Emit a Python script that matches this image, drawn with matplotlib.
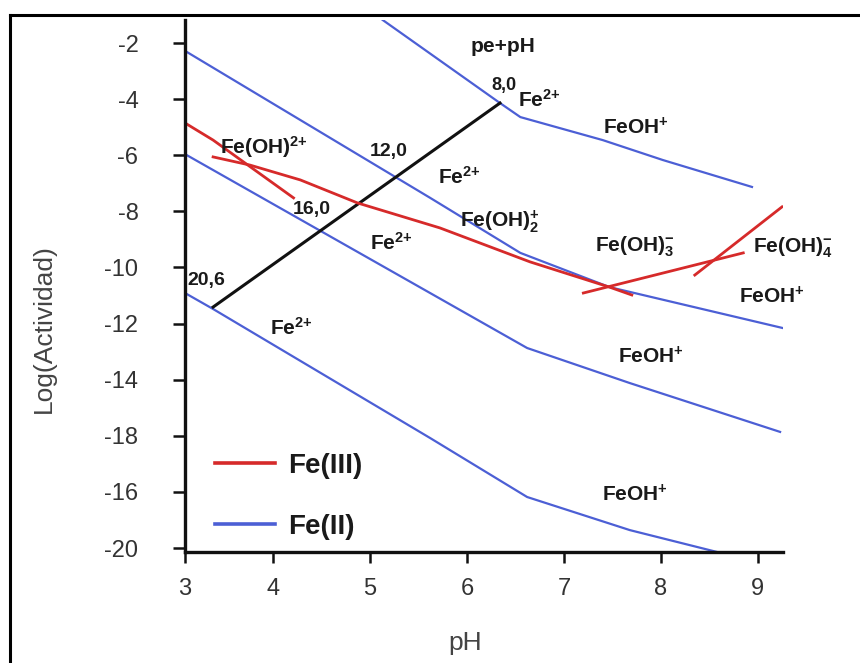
import matplotlib
matplotlib.use("Agg")
import matplotlib.pyplot as plt
from matplotlib.lines import Line2D

plt.rcParams['font.family'] = ['Liberation Sans', 'DejaVu Sans']
plt.rcParams['mathtext.fontset'] = 'custom'
plt.rcParams['mathtext.rm'] = 'Liberation Sans'
plt.rcParams['mathtext.bf'] = 'Liberation Sans:bold'
plt.rcParams['mathtext.it'] = 'Liberation Sans:italic'

# ---------------- data ----------------
# Fe(II) lines (pH, log activity)
fe2_a_x = [5.13, 6.34, 6.55, 7.40, 8.02, 8.94]
fe2_a_y = [-1.18, -4.14, -4.64, -5.46, -6.17, -7.13]
fe2_b_x = [3.09, 5.62, 6.55, 7.47, 9.26]
fe2_b_y = [-2.28, -7.52, -9.48, -10.70, -12.16]
fe2_c_x = [3.09, 6.62, 7.68, 9.23]
fe2_c_y = [-5.96, -12.87, -14.12, -15.86]
fe2_d_x = [3.09, 3.38, 5.62, 6.62, 7.68, 8.58]
fe2_d_y = [-10.91, -11.48, -16.08, -18.18, -19.36, -20.14]

# pe+pH line
pe_x = [3.38, 6.34]
pe_y = [-11.41, -4.14]

# Fe(III) lines
fe3_a_x = [3.09, 3.38, 4.21]
fe3_a_y = [-4.85, -5.46, -7.52]
fe3_b_x = [3.38, 3.76, 4.28, 4.87, 5.72, 6.65, 7.47, 7.70]
fe3_b_y = [-6.06, -6.35, -6.88, -7.70, -8.59, -9.80, -10.70, -10.98]
fe3_c_x = [7.20, 8.85]
fe3_c_y = [-10.91, -9.48]
fe3_d_x = [8.35, 9.25]
fe3_d_y = [-10.27, -7.84]

x_ticks = [3.09, 4, 5, 6, 7, 8, 9]
x_tick_labels = ['3', '4', '5', '6', '7', '8', '9']
y_ticks = [-2, -4, -6, -8, -10, -12, -14, -16, -18, -20]
y_tick_labels = ['-2', '-4', '-6', '-8', '-10', '-12', '-14', '-18', '-16', '-20']

# labels: (text, x, y, ha, size)
species_labels = [
    ("pe+pH", 6.37, -2.14, 'center', 15),
    ("8,0", 6.38, -3.50, 'center', 13),
    (r"$\mathbf{Fe^{2{+}}}$", 6.53, -4.03, 'left', 15),
    (r"$\mathbf{FeOH^{{+}}}$", 7.40, -5.03, 'left', 15),
    ("12,0", 5.19, -5.88, 'center', 14),
    (r"$\mathbf{Fe(OH)^{2{+}}}$", 3.45, -5.71, 'left', 15),
    ("16,0", 4.40, -7.95, 'center', 14),
    (r"$\mathbf{Fe^{2{+}}}$", 5.70, -6.78, 'left', 15),
    (r"$\mathbf{Fe(OH)_{2}^{{+}}}$", 5.93, -8.38, 'left', 15),
    (r"$\mathbf{Fe^{2{+}}}$", 5.00, -9.13, 'left', 15),
    (r"$\mathbf{Fe(OH)_{3}^{{-}}}$", 7.32, -9.27, 'left', 15),
    (r"$\mathbf{Fe(OH)_{4}^{{-}}}$", 8.95, -9.31, 'left', 15),
    (r"$\mathbf{FeOH^{{+}}}$", 8.81, -11.05, 'left', 15),
    ("20,6", 3.11, -10.48, 'left', 14),
    (r"$\mathbf{Fe^{2{+}}}$", 3.97, -12.16, 'left', 15),
    (r"$\mathbf{FeOH^{{+}}}$", 7.56, -13.19, 'left', 15),
    (r"$\mathbf{FeOH^{{+}}}$", 7.39, -18.11, 'left', 15),
]

BLUE = "#4c5fd5"
RED = "#d62a2a"

fig = plt.figure(figsize=(8.6, 6.63), dpi=100)
fig.patch.set_facecolor('white')
ax = fig.add_axes([185/860, 1-552/663, (783-185)/860, (552-20)/663])

l2, = ax.plot(fe2_a_x, fe2_a_y, color=BLUE, lw=1.6, label='Fe(II)')
ax.plot(fe2_b_x, fe2_b_y, color=BLUE, lw=1.6)
ax.plot(fe2_c_x, fe2_c_y, color=BLUE, lw=1.6)
ax.plot(fe2_d_x, fe2_d_y, color=BLUE, lw=1.6)
ax.plot(pe_x, pe_y, color='#111111', lw=2.2)
l3, = ax.plot(fe3_a_x, fe3_a_y, color=RED, lw=2.0, label='Fe(III)')
ax.plot(fe3_b_x, fe3_b_y, color=RED, lw=2.0)
ax.plot(fe3_c_x, fe3_c_y, color=RED, lw=2.0)
ax.plot(fe3_d_x, fe3_d_y, color=RED, lw=2.0)

for txt, x, y, ha, sz in species_labels:
    ax.text(x, y, txt, ha=ha, va='center', fontsize=sz, color='#1a1a1a',
            fontweight='bold')

ax.set_xlim(3.09, 9.26)
ax.set_ylim(-20.14, -1.18)
ax.set_xticks(x_ticks)
ax.set_xticklabels(x_tick_labels)
ax.set_yticks(y_ticks)
ax.set_yticklabels(y_tick_labels)

for s in ['top', 'right']:
    ax.spines[s].set_visible(False)
for s in ['left', 'bottom']:
    ax.spines[s].set_linewidth(2.4)
    ax.spines[s].set_color('#111111')
ax.tick_params(axis='y', direction='out', length=8.5, width=1.8, pad=25,
               labelsize=17, labelcolor='#333333', color='#111111')
ax.tick_params(axis='x', direction='out', length=8, width=1.8, pad=11,
               labelsize=17, labelcolor='#333333', color='#111111')

fig.text(44/860, 1-329/663, 'Log(Actividad)', rotation=90, ha='center', va='center',
         fontsize=19, color='#444444')
fig.text(465/860, 1-643/663, 'pH', ha='center', va='center', fontsize=19, color='#444444')

leg = ax.legend(handles=[l3, l2], loc='upper left', bbox_to_anchor=(0.05, 0.187),
                frameon=False, borderpad=0, borderaxespad=0, handlelength=2.15,
                handletextpad=0.5, labelspacing=1.28,
                prop={'size': 20, 'weight': 'bold'})
for t in leg.get_texts():
    t.set_color('#1a1a1a')
for h in leg.legend_handles:
    h.set_linewidth(2.6)

# frame decoration (top and left border)
fig.add_artist(Line2D([10/860, 1.0], [1-15/663, 1-15/663], color='black', lw=2.2,
                      transform=fig.transFigure))
fig.add_artist(Line2D([10/860, 10/860], [1-15/663, 0.0], color='black', lw=2.2,
                      transform=fig.transFigure))

fig.savefig('out.png', dpi=100)
